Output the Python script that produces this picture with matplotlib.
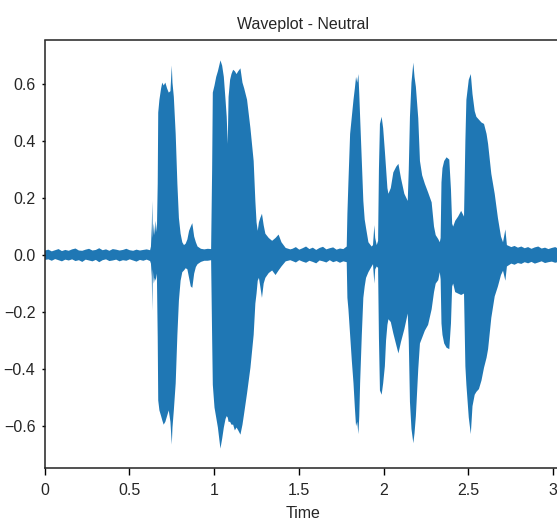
import matplotlib.pyplot as plt

plt.rcParams['font.family'] = ['Liberation Sans', 'DejaVu Sans']

# envelope of the waveform (seconds, max, min)
TIME = [
    # leading silence
    0.00, 0.02, 0.04, 0.06, 0.08, 0.10, 0.12, 0.14, 0.16, 0.18, 0.20, 0.22,
    0.24, 0.26, 0.28, 0.30, 0.32, 0.34, 0.36, 0.38, 0.40, 0.42, 0.44, 0.46,
    0.48, 0.50, 0.52, 0.54, 0.56, 0.58, 0.60, 0.62,
    # first word
    0.625, 0.630, 0.633, 0.636, 0.642, 0.648, 0.653, 0.660, 0.665, 0.668,
    0.675, 0.685, 0.692, 0.700, 0.710, 0.720, 0.730, 0.740, 0.748, 0.752,
    0.760, 0.771, 0.781, 0.790, 0.800, 0.810, 0.820, 0.830, 0.840, 0.850,
    0.860, 0.869, 0.880, 0.890, 0.900, 0.920, 0.940, 0.960, 0.980,
    # second word
    0.986, 0.990, 1.000, 1.010, 1.020, 1.030, 1.035, 1.045, 1.055, 1.065,
    1.072, 1.078, 1.083, 1.092, 1.100, 1.110, 1.120, 1.130, 1.140, 1.153,
    1.165, 1.175, 1.192, 1.212, 1.231, 1.241, 1.248, 1.255, 1.262, 1.270,
    1.280, 1.290, 1.300, 1.320, 1.340, 1.360, 1.378, 1.395, 1.420, 1.447,
    # pause
    1.46, 1.48, 1.50, 1.52, 1.54, 1.56, 1.58, 1.60, 1.62, 1.64, 1.66, 1.68,
    1.70, 1.72, 1.74, 1.76,
    # third word
    1.780, 1.784, 1.790, 1.800, 1.810, 1.820, 1.828, 1.835, 1.842, 1.849,
    1.854, 1.859, 1.869, 1.878, 1.886, 1.894, 1.908, 1.927, 1.935, 1.943,
    1.948, 1.957,
    # fourth word
    1.965, 1.970, 1.976, 1.986, 1.995, 2.005, 2.012, 2.020, 2.026, 2.040,
    2.055, 2.072, 2.085, 2.100, 2.120, 2.140, 2.146, 2.153, 2.162, 2.173,
    2.180, 2.188, 2.202, 2.212, 2.225, 2.241, 2.260, 2.281, 2.295, 2.305,
    2.320, 2.329,
    # fifth word
    2.334, 2.339, 2.345, 2.355, 2.369, 2.385, 2.395, 2.402, 2.408, 2.420,
    2.437, 2.455, 2.472, 2.480, 2.486, 2.500, 2.512, 2.522, 2.535, 2.545,
    2.560, 2.575, 2.590, 2.605, 2.614, 2.633, 2.653, 2.672, 2.690, 2.702,
    2.716, 2.725, 2.751,
    # trailing silence
    2.77, 2.79, 2.81, 2.83, 2.85, 2.87, 2.89, 2.91, 2.93, 2.95, 2.97, 2.99,
    3.01, 3.03, 3.05,
]

UPPER = [
    0.016, 0.019, 0.013, 0.017, 0.021, 0.014, 0.018, 0.015, 0.020, 0.023, 0.016, 0.015,
    0.019, 0.022, 0.016, 0.018, 0.024, 0.017, 0.020, 0.015, 0.021, 0.019, 0.016, 0.018,
    0.022, 0.017, 0.015, 0.019, 0.016, 0.018, 0.020, 0.017,
    0.030, 0.100, 0.190, 0.060, 0.110, 0.070, 0.120, 0.080, 0.250, 0.500,
    0.545, 0.585, 0.605, 0.595, 0.605, 0.585, 0.570, 0.575, 0.665, 0.605,
    0.555, 0.425, 0.250, 0.130, 0.075, 0.045, 0.035, 0.040, 0.055, 0.085,
    0.100, 0.112, 0.065, 0.045, 0.030, 0.022, 0.020, 0.022, 0.021,
    0.300, 0.570, 0.595, 0.625, 0.645, 0.670, 0.683, 0.665, 0.625, 0.545,
    0.485, 0.390, 0.555, 0.615, 0.635, 0.650, 0.645, 0.635, 0.645, 0.655,
    0.605, 0.585, 0.545, 0.445, 0.330, 0.190, 0.115, 0.085, 0.115, 0.130,
    0.145, 0.105, 0.075, 0.060, 0.050, 0.060, 0.072, 0.045, 0.025, 0.020,
    0.022, 0.028, 0.019, 0.024, 0.030, 0.021, 0.026, 0.018, 0.025, 0.029,
    0.020, 0.024, 0.027, 0.019, 0.023, 0.021,
    0.030, 0.145, 0.255, 0.425, 0.485, 0.545, 0.585, 0.625, 0.605, 0.635,
    0.565, 0.485, 0.330, 0.190, 0.125, 0.095, 0.045, 0.030, 0.035, 0.105,
    0.060, 0.035,
    0.050, 0.300, 0.460, 0.485, 0.445, 0.365, 0.305, 0.235, 0.215, 0.235,
    0.290, 0.310, 0.320, 0.270, 0.215, 0.190, 0.300, 0.485, 0.605, 0.675,
    0.625, 0.590, 0.480, 0.330, 0.280, 0.250, 0.220, 0.185, 0.100, 0.070,
    0.056, 0.045,
    0.060, 0.255, 0.305, 0.330, 0.343, 0.335, 0.230, 0.110, 0.100, 0.120,
    0.135, 0.155, 0.135, 0.400, 0.545, 0.615, 0.635, 0.565, 0.505, 0.485,
    0.475, 0.465, 0.460, 0.425, 0.390, 0.285, 0.215, 0.130, 0.065, 0.045,
    0.090, 0.035, 0.028,
    0.032, 0.026, 0.030, 0.024, 0.028, 0.022, 0.027, 0.030, 0.023, 0.026,
    0.021, 0.025, 0.028, 0.022, 0.024,
]

LOWER = [
    -0.017, -0.015, -0.020, -0.014, -0.018, -0.022, -0.016, -0.019, -0.015, -0.021, -0.018, -0.024,
    -0.016, -0.019, -0.022, -0.017, -0.025, -0.018, -0.015, -0.021, -0.019, -0.016, -0.022, -0.018,
    -0.020, -0.015, -0.019, -0.023, -0.017, -0.020, -0.016, -0.021,
    -0.030, -0.075, -0.195, -0.050, -0.100, -0.080, -0.090, -0.065, -0.290, -0.510,
    -0.545, -0.565, -0.580, -0.595, -0.585, -0.565, -0.545, -0.585, -0.665, -0.605,
    -0.545, -0.450, -0.280, -0.160, -0.090, -0.060, -0.054, -0.046, -0.050, -0.080,
    -0.110, -0.115, -0.065, -0.042, -0.032, -0.024, -0.020, -0.020, -0.018,
    -0.290, -0.455, -0.535, -0.570, -0.605, -0.655, -0.679, -0.645, -0.605, -0.575,
    -0.565, -0.570, -0.585, -0.585, -0.595, -0.595, -0.615, -0.605, -0.615, -0.630,
    -0.595, -0.555, -0.485, -0.395, -0.280, -0.170, -0.135, -0.090, -0.080, -0.110,
    -0.150, -0.100, -0.080, -0.063, -0.054, -0.070, -0.054, -0.040, -0.022, -0.018,
    -0.021, -0.026, -0.018, -0.023, -0.027, -0.020, -0.024, -0.029, -0.019, -0.022,
    -0.026, -0.018, -0.025, -0.021, -0.027, -0.022,
    -0.025, -0.150, -0.190, -0.280, -0.370, -0.450, -0.535, -0.600, -0.585, -0.628,
    -0.565, -0.450, -0.280, -0.150, -0.110, -0.080, -0.060, -0.040, -0.032, -0.100,
    -0.050, -0.040,
    -0.045, -0.290, -0.475, -0.490, -0.450, -0.390, -0.300, -0.245, -0.225, -0.235,
    -0.275, -0.315, -0.345, -0.305, -0.260, -0.205, -0.300, -0.515, -0.610, -0.660,
    -0.625, -0.565, -0.400, -0.310, -0.290, -0.265, -0.245, -0.190, -0.130, -0.100,
    -0.088, -0.060,
    -0.085, -0.240, -0.280, -0.310, -0.325, -0.330, -0.240, -0.110, -0.100, -0.130,
    -0.135, -0.140, -0.135, -0.390, -0.455, -0.570, -0.628, -0.530, -0.490, -0.480,
    -0.470, -0.440, -0.395, -0.360, -0.330, -0.220, -0.145, -0.110, -0.070, -0.055,
    -0.090, -0.040, -0.030,
    -0.034, -0.028, -0.031, -0.025, -0.029, -0.024, -0.030, -0.026, -0.022, -0.028,
    -0.025, -0.023, -0.027, -0.024, -0.026,
]

X_TICKS = [0, 0.5, 1, 1.5, 2, 2.5, 3]
X_TICK_LABELS = ['0', '0.5', '1', '1.5', '2', '2.5', '3']
Y_TICKS = [-0.6, -0.4, -0.2, 0.0, 0.2, 0.4, 0.6]

fig = plt.figure(figsize=(5.57, 5.30), dpi=100)
ax = fig.add_axes([44.5 / 557, 62.5 / 530, 517 / 557, 427 / 530])

ax.fill_between(TIME, LOWER, UPPER, color='#1f77b4', linewidth=0)

ax.set_xlim(0, 3.05)
ax.set_ylim(-0.747, 0.751)
ax.set_xticks(X_TICKS)
ax.set_xticklabels(X_TICK_LABELS)
ax.set_yticks(Y_TICKS)
ax.tick_params(axis='x', length=5, width=1, pad=6.5, labelsize=11.5, labelcolor='#262626')
ax.tick_params(axis='y', length=2.5, width=1, pad=4, labelsize=11.5, labelcolor='#262626')
for s in ax.spines.values():
    s.set_linewidth(1.1)
    s.set_color('#222222')

ax.set_title('Waveplot - Neutral', fontsize=11.5, pad=8, color='#262626')
ax.set_xlabel('Time', fontsize=11.5, labelpad=5.5, color='#262626')

fig.savefig('out.png', dpi=100)
